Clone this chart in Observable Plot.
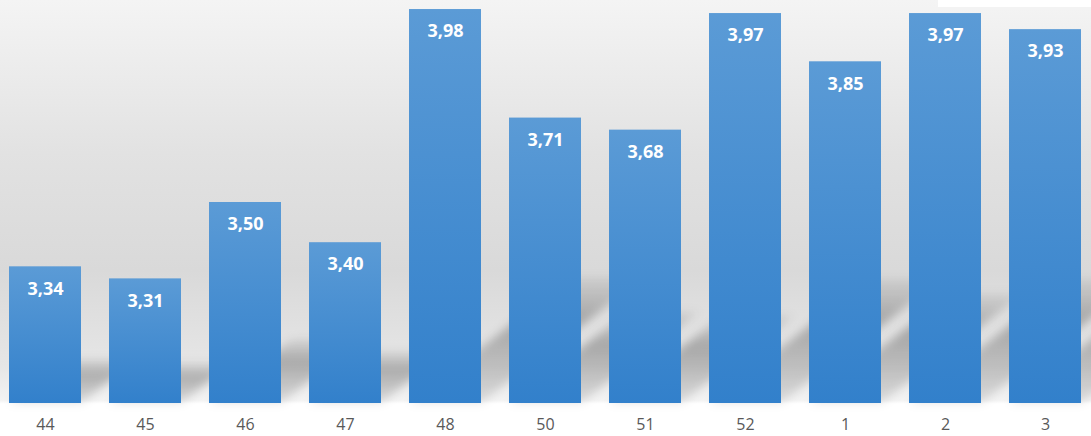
<!DOCTYPE html>
<html><head><meta charset="utf-8">
<script src="https://cdn.jsdelivr.net/npm/d3@7"></script>
<script src="https://cdn.jsdelivr.net/npm/@observablehq/plot@0.6"></script>
<style>
body{margin:0;background:#fff;}
#wrap{position:relative;width:1091px;height:436px;overflow:hidden;}
#box{position:absolute;left:938px;top:0;width:153px;height:7px;background:#fff;}
</style></head><body><div id="wrap"><div id="chart"></div><div id="box"></div></div>
<script>
const weeks = ["44","45","46","47","48","50","51","52","1","2","3"];
const scores = [3.34,3.31,3.50,3.40,3.98,3.71,3.68,3.97,3.85,3.97,3.93];
const yMin = 3, yMax = 4;
const data = weeks.map((w,i)=>({week:w, score:scores[i]}));
const fmt = v => v.toFixed(2).replace(".", ",");

function shadowsAndDefs(index, scales, values, dimensions, context) {
  const g = d3.create("svg:g");
  const defs = g.append("defs");
  const bg = defs.append("linearGradient").attr("id","barGrad").attr("x1",0).attr("y1",0).attr("x2",0).attr("y2",1);
  bg.append("stop").attr("offset","0%").attr("stop-color","#5b9bd6");
  bg.append("stop").attr("offset","100%").attr("stop-color","#3280cb");
  const f = defs.append("filter").attr("id","blur").attr("x","-50%").attr("y","-50%").attr("width","200%").attr("height","200%");
  f.append("feGaussianBlur").attr("stdDeviation",5);
  const sg = defs.append("linearGradient").attr("id","shGrad").attr("x1",0).attr("y1",0).attr("x2",0).attr("y2",1);
  sg.append("stop").attr("offset","0%").attr("stop-color","#000").attr("stop-opacity",0.06);
  sg.append("stop").attr("offset","35%").attr("stop-color","#000").attr("stop-opacity",0.26);
  sg.append("stop").attr("offset","100%").attr("stop-color","#000").attr("stop-opacity",0.1);
  const x = scales.x, y = scales.y;
  const bw = x.bandwidth ? x.bandwidth() : 72;
  data.forEach(d => {
    const x0 = x(d.week), yb = y(yMin), yt = y(d.score);
    const h = 0.32 * (yb - yt), dx = 1.3 * h;
    g.append("path")
      .attr("d", `M${x0},${yb}L${x0+bw},${yb}L${x0+bw+dx},${yb-h}L${x0+dx},${yb-h}Z`)
      .attr("fill","url(#shGrad)")
      .attr("filter","url(#blur)");
  });
  return g.node();
}

const chart = Plot.plot({
  width: 1091,
  height: 436,
  marginTop: 1,
  marginBottom: 33,
  marginLeft: 0,
  marginRight: 0,
  style: {
    background: "linear-gradient(to bottom, #f4f4f4 0%, #e2e2e2 35%, #d9d9d9 62%, #e6e6e6 84%, #f3f3f3 91.8%, #ffffff 92.6%, #ffffff 100%)",
    overflow: "hidden"
  },
  x: {domain: weeks, range: [-20, 1110], padding: 0.28, label: null, tickSize: 0, tickPadding: 15},
  y: {domain: [yMin, yMax], axis: null},
  marks: [
    shadowsAndDefs,
    Plot.barY(data, {x: "week", y1: yMin, y2: "score", fill: "url(#barGrad)"}),
    Plot.text(data, {x: "week", y: "score", text: d => fmt(d.score), dy: 22, fill: "white", fontWeight: "bold", fontSize: 18, fontFamily: "Open Sans"}),
    Plot.axisX({tickSize: 0, tickPadding: 15, fontSize: 16, fontFamily: "Open Sans", color: "#595959", label: null})
  ]
});
chart.style.fontFamily = "Open Sans";
document.getElementById("chart").appendChild(chart);
</script>
</body></html>
